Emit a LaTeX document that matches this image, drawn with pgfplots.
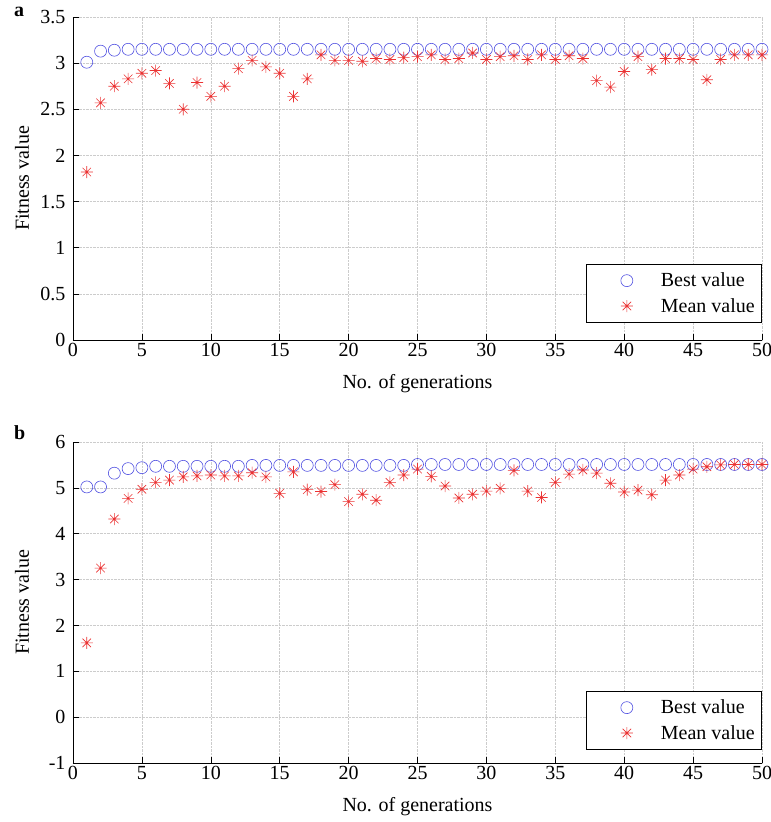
\documentclass[border=0pt]{standalone}
\usepackage{fontspec}
\setmainfont{Liberation Serif}
\usepackage{pgfplots}
\usepackage{pgfplotstable}
\pgfplotsset{compat=1.18}

\definecolor{BestBlue}{RGB}{80,80,225}
\definecolor{MeanRed}{RGB}{235,50,50}

% MATLAB-like asterisk: plus and cross overlaid
\pgfdeclareplotmark{mstar}{%
  \pgfpathmoveto{\pgfqpoint{0pt}{\pgfplotmarksize}}%
  \pgfpathlineto{\pgfqpoint{0pt}{-\pgfplotmarksize}}%
  \pgfpathmoveto{\pgfqpoint{\pgfplotmarksize}{0pt}}%
  \pgfpathlineto{\pgfqpoint{-\pgfplotmarksize}{0pt}}%
  \pgfpathmoveto{\pgfqpoint{.707\pgfplotmarksize}{.707\pgfplotmarksize}}%
  \pgfpathlineto{\pgfqpoint{-.707\pgfplotmarksize}{-.707\pgfplotmarksize}}%
  \pgfpathmoveto{\pgfqpoint{-.707\pgfplotmarksize}{.707\pgfplotmarksize}}%
  \pgfpathlineto{\pgfqpoint{.707\pgfplotmarksize}{-.707\pgfplotmarksize}}%
  \pgfusepathqstroke}

\pgfplotstableread{
gen best mean
1 3.01 1.82
2 3.13 2.57
3 3.14 2.75
4 3.15 2.83
5 3.15 2.89
6 3.15 2.92
7 3.15 2.78
8 3.15 2.50
9 3.15 2.79
10 3.15 2.64
11 3.15 2.75
12 3.15 2.94
13 3.15 3.03
14 3.15 2.96
15 3.15 2.89
16 3.15 2.64
17 3.15 2.83
18 3.15 3.09
19 3.15 3.03
20 3.15 3.03
21 3.15 3.02
22 3.15 3.05
23 3.15 3.04
24 3.15 3.06
25 3.15 3.07
26 3.15 3.09
27 3.15 3.04
28 3.15 3.05
29 3.15 3.11
30 3.15 3.04
31 3.15 3.07
32 3.15 3.08
33 3.15 3.04
34 3.15 3.09
35 3.15 3.04
36 3.15 3.08
37 3.15 3.05
38 3.15 2.81
39 3.15 2.74
40 3.15 2.91
41 3.15 3.07
42 3.15 2.93
43 3.15 3.05
44 3.15 3.05
45 3.15 3.04
46 3.15 2.82
47 3.15 3.04
48 3.15 3.09
49 3.15 3.09
50 3.15 3.09
}\dataA

\pgfplotstableread{
gen best mean
1 5.02 1.62
2 5.02 3.25
3 5.32 4.32
4 5.42 4.77
5 5.44 4.97
6 5.47 5.12
7 5.47 5.17
8 5.47 5.24
9 5.47 5.26
10 5.47 5.28
11 5.47 5.26
12 5.47 5.26
13 5.49 5.33
14 5.49 5.24
15 5.49 4.88
16 5.49 5.35
17 5.49 4.96
18 5.49 4.92
19 5.49 5.07
20 5.49 4.70
21 5.49 4.86
22 5.49 4.73
23 5.49 5.12
24 5.49 5.28
25 5.51 5.41
26 5.51 5.25
27 5.51 5.04
28 5.51 4.78
29 5.51 4.86
30 5.51 4.93
31 5.51 4.99
32 5.51 5.38
33 5.51 4.93
34 5.51 4.79
35 5.51 5.12
36 5.51 5.30
37 5.51 5.39
38 5.51 5.32
39 5.51 5.10
40 5.51 4.91
41 5.51 4.95
42 5.51 4.85
43 5.51 5.17
44 5.51 5.28
45 5.51 5.41
46 5.51 5.46
47 5.51 5.50
48 5.51 5.51
49 5.51 5.51
50 5.51 5.51
}\dataB

\pgfplotsset{
  gaaxis/.style={
    scale only axis,
    width=689pt,
    xmin=0, xmax=50,
    xtick={0,5,...,50},
    axis x line*=bottom,
    axis y line*=left,
    tick align=inside,
    major tick length=6pt,
    tick style={black, line width=0.6pt},
    axis line style={black, line width=0.6pt},
    grid=major,
    major grid style={densely dotted, gray!40, line width=0.5pt},
    clip=false,
    /pgf/number format/assume math mode=true,
    tick label style={font=\fontsize{20}{24}\selectfont},
    yticklabel style={xshift=-4pt},
    xlabel={No. of generations},
    ylabel={Fitness value},
    every axis x label/.style={at={(axis description cs:0.5,0)}, anchor=center,
      yshift=-44pt, font=\fontsize{20}{24}\selectfont},
    every axis y label/.style={at={(axis description cs:-0.074,0.5)}, anchor=center,
      rotate=90, font=\fontsize{20}{24}\selectfont},
    legend cell align=left,
    legend style={at={(1,0)}, anchor=south east, draw=black, line width=0.6pt,
      font=\fontsize{20}{24}\selectfont, inner xsep=5pt, inner ysep=7pt,
      row sep=6pt, column sep=20pt},
    legend image code/.code={%
      \path[draw=none, fill=none] (0pt,-6pt) rectangle (48pt,6pt);
      \draw[##1] plot coordinates {(36pt,0pt)};},
    besty/.style={only marks, mark=o, mark size=6pt, color=BestBlue, line width=0.6pt},
    meany/.style={only marks, mark=mstar, mark size=6pt, color=MeanRed, line width=0.6pt},
  }
}

\begin{document}
\begin{tikzpicture}[x=1pt,y=1pt]
  \useasboundingbox (0,0) rectangle (771,-822);

  \node[anchor=north west, font=\bfseries\fontsize{20}{24}\selectfont, inner sep=0pt] at (14,-7) {a};
  \node[anchor=north west, font=\bfseries\fontsize{20}{24}\selectfont, inner sep=0pt] at (14,-425) {b};

  \begin{axis}[
    gaaxis,
    at={(73pt,-17pt)}, anchor=north west,
    height=323pt,
    ymin=0, ymax=3.5,
    ytick={0,0.5,...,3.5},
    legend style={yshift=17pt}
  ]
    \addplot[besty] table[x=gen, y=best] {\dataA};
    \addlegendentry{Best value}
    \addplot[meany] table[x=gen, y=mean] {\dataA};
    \addlegendentry{Mean value}
  \end{axis}

  \begin{axis}[
    gaaxis,
    at={(73pt,-442pt)}, anchor=north west,
    height=321pt,
    ymin=-1, ymax=6,
    ytick={-1,0,...,6},
    legend style={yshift=13pt}
  ]
    \addplot[besty] table[x=gen, y=best] {\dataB};
    \addlegendentry{Best value}
    \addplot[meany] table[x=gen, y=mean] {\dataB};
    \addlegendentry{Mean value}
  \end{axis}
\end{tikzpicture}
\end{document}
